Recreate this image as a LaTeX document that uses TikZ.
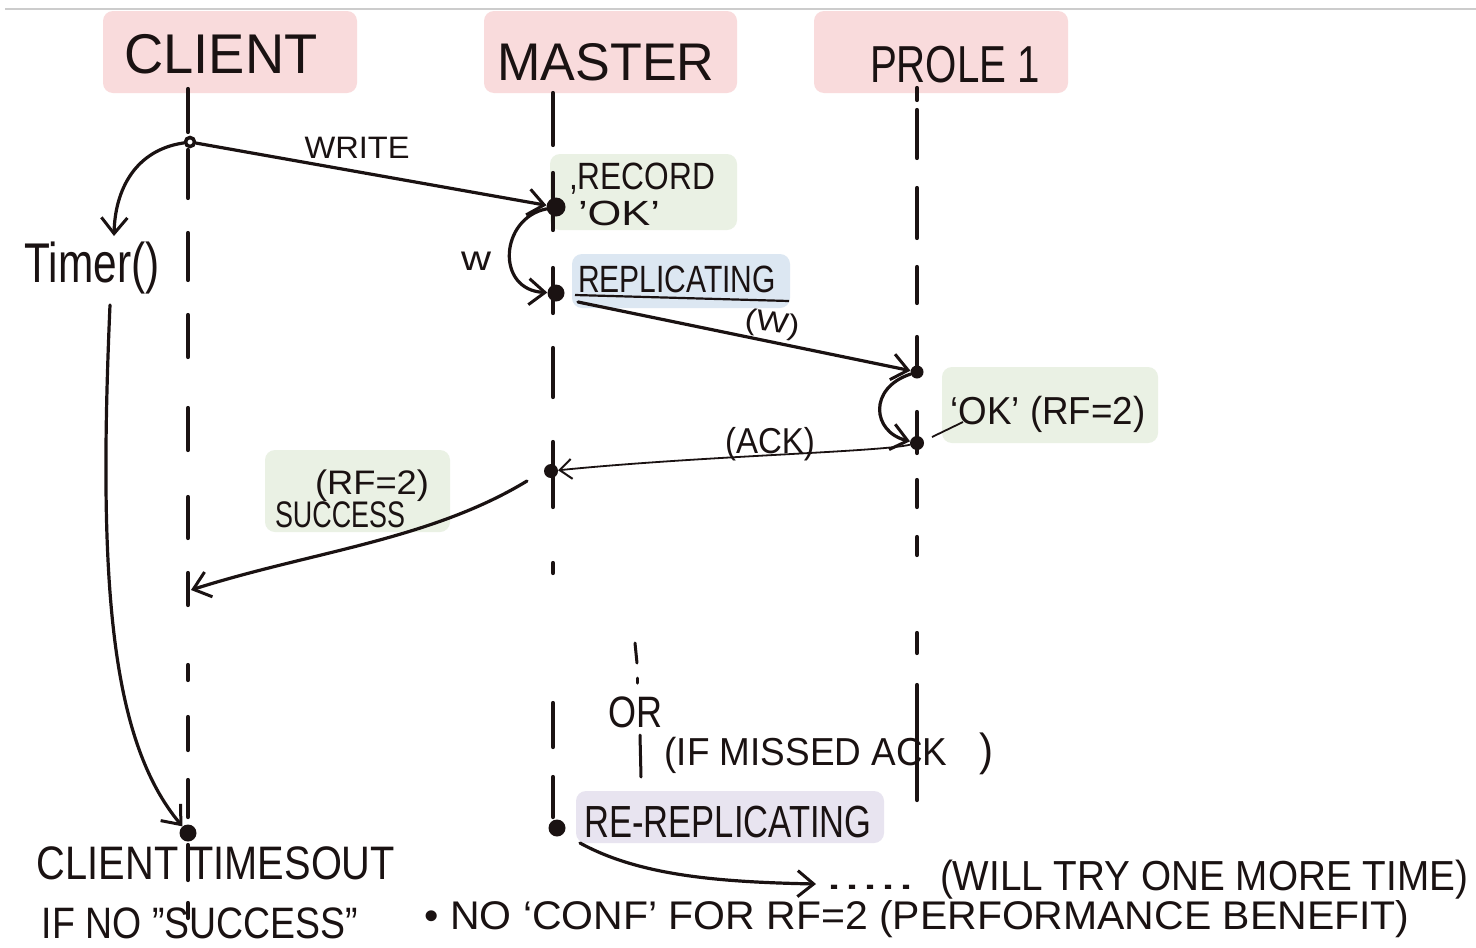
\documentclass[tikz,border=0pt]{standalone}
\usepackage{fontspec}
\usepackage{graphicx}
\setmainfont{Liberation Sans}
\usetikzlibrary{arrows.meta}

\definecolor{hdrpink}{HTML}{F9DBDC}
\definecolor{notegreen}{HTML}{EAF1E4}
\definecolor{noteblue}{HTML}{DCE7F2}
\definecolor{notelilac}{HTML}{E8E4F0}
\definecolor{ink}{HTML}{1A1212}

% hand-lettered text: width #1 (pt), font size #2 (pt), text #3
\newcommand{\hw}[3]{\resizebox{#1pt}{\height}{\fontsize{#2}{#2}\selectfont #3}}

\tikzset{
  lbl/.style={inner sep=0pt, anchor=base, text=ink},
  box/.style={rounded corners=10pt},
  life/.style={draw=ink, line width=4.2pt, line cap=round},
  dotn/.style={circle, fill=ink, inner sep=0pt, minimum size=#1},
  arr/.style={draw=ink, line width=3.2pt, line cap=round,
    -{Straight Barb[length=16pt,width=26pt,line width=3pt]}},
  arrthin/.style={draw=ink, line width=1.8pt, line cap=round,
    -{Straight Barb[length=12pt,width=20pt,line width=2pt]}},
}

\begin{document}
\begin{tikzpicture}[x=1pt, y=-1pt]
\useasboundingbox (0,0) rectangle (1476,948);
\fill[white] (0,0) rectangle (1476,948);
\draw[black!20, line width=1.2pt] (5,9) -- (1476,9);

% participant headers
\fill[hdrpink, box] (103,11) rectangle (357,93);
\fill[hdrpink, box] (484,11) rectangle (737,93);
\fill[hdrpink, box] (814,11) rectangle (1068,93);
\node[lbl] (hclient) at (221,73) {\hw{193}{56}{CLIENT}};
\node[lbl] (hmaster) at (606,80) {\hw{217}{53}{MASTER}};
\node[lbl] (hprole)  at (955,82) {\hw{170}{52}{PROLE 1}};

% note boxes
\fill[notegreen, box] (550,154) rectangle (737,230);
\fill[noteblue, box] (572,254) rectangle (790,308);
\fill[notegreen, box] (942,367) rectangle (1158,443);
\fill[notegreen, box] (265,450) rectangle (450,532);
\fill[notelilac, box] (576,791) rectangle (884,843);

% lifelines
\foreach \a/\b in {89/132,150/198,233/280,315/357,408/450,497/538,573/605,
                   665/680,717/750,780/817,845/880,903/918}
  \draw[life] (188,\a) -- (188,\b);
\foreach \a/\b in {93/145,173/230,268/313,348/397,442/507,563/573,703/747,777/817}
  \draw[life] (553,\a) -- (553,\b);
\foreach \a/\b in {88/100,110/158,188/238,267/303,337/372,412/453,480/507,
                   537/555,633/653,685/800}
  \draw[life] (917,\a) -- (917,\b);
% alternative branch marker
\draw[life, line width=3pt] (635,643) -- (637,663);
\draw[life, line width=3pt] (637,678) -- (637,683);
\draw[life, line width=3pt] (640,735) -- (641,777);

% events
\node[circle, draw=ink, fill=white, line width=3.5pt, inner sep=0pt, minimum size=9pt] (c0) at (190,142) {};
\node[dotn=19pt] (m1) at (556,207) {};
\node[dotn=17pt] (m2) at (556,293) {};
\node[dotn=13pt] (p1) at (917,372) {};
\node[dotn=14pt] (p2) at (917,443) {};
\node[dotn=14pt] (m3) at (551,471) {};
\node[dotn=17pt] (c2) at (188,833) {};
\node[dotn=17pt] (m4) at (557,828) {};
\coordinate (c1) at (191,590);
\coordinate (timertip) at (114,236);
\coordinate (timerout) at (110,305);
\coordinate (repstart) at (578,302);
\coordinate (succstart) at (527,481);
\coordinate (rrstart) at (580,843);
\coordinate (rrend) at (816,884);
\coordinate (okfrom) at (932,437);
\coordinate (okto) at (963,422);

% labels
\node[lbl] (write) at (357,158) {\hw{105}{31}{WRITE}};
\node[lbl] (rec1) at (642,189) {\hw{146}{38}{,RECORD}};
\node[lbl] (rec2) at (619,225) {\hw{82}{35}{’OK’}};
\node[lbl] (wlbl) at (476,270) {\hw{30}{35}{w}};
\node[lbl] (timer) at (92,282) {\hw{135}{56}{Timer()}};
\node[lbl] (repl) at (677,292) {\hw{198}{38}{REPLICATING}};
\draw[ink, line width=2.2pt] (575,295) -- (789,301);
\node[lbl, rotate=-8] (wpar) at (771,332) {\hw{55}{29}{(W)}};
\node[lbl] (okrf) at (1048,424) {\hw{195}{39}{‘OK’ (RF=2)}};
\node[lbl] (ack) at (770,453) {\hw{90}{36}{(ACK)}};
\node[lbl] (rf2) at (372,494) {\hw{114}{34}{(RF=2)}};
\node[lbl] (succ) at (340,527) {\hw{130}{37}{SUCCESS}};
\node[lbl] (orl) at (635,727) {\hw{54}{44}{OR}};
\node[lbl] (missed) at (806,765) {\hw{283}{39}{(IF MISSED ACK}};
\node[lbl] (missedc) at (986,765) {\hw{14}{45}{)}};
\node[lbl] (rerep) at (728,837) {\hw{287}{45}{RE-REPLICATING}};
\node[lbl] (cto) at (216,879) {\hw{358}{47}{CLIENT TIMESOUT}};
\node[lbl] (ifno) at (200,938) {\hw{316}{44}{IF NO "SUCCESS"}};
\node[lbl] (dots) at (870,889) {\hw{90}{40}{.....}};
\node[lbl] (retry) at (1204,890) {\hw{528}{42}{(WILL TRY ONE MORE TIME)}};
\node[lbl] (noconf) at (917,929) {\hw{985}{40}{• NO ‘CONF’ FOR RF=2 (PERFORMANCE BENEFIT)}};

% messages
\draw[arr] (c0) .. controls (135,150) and (115,190) .. (timertip);
\draw[arr] (c0) -- (m1);
\draw[arr] (m1) .. controls (500,218) and (495,290) .. (m2);
\draw[arr] (repstart) -- (p1);
\draw[arr] (p1) .. controls (868,388) and (872,432) .. (p2);
\draw[arrthin] (p2) .. controls (880,452) and (700,456) .. (m3);
\draw[arr] (succstart) .. controls (430,540) and (310,552) .. (c1);
\draw[arr] (timerout) .. controls (98,580) and (110,740) .. (c2);
\draw[arr] (rrstart) .. controls (640,876) and (720,882) .. (rrend);
\draw[ink, line width=1.8pt] (okfrom) -- (okto);
\end{tikzpicture}
\end{document}
